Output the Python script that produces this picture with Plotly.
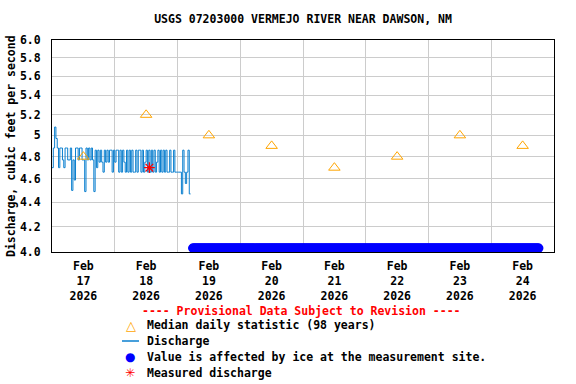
import numpy as np
import pandas as pd
import plotly.graph_objects as go

# ---------------- data ----------------
TITLE = "USGS 07203000 VERMEJO RIVER NEAR DAWSON, NM"
Y_TITLE = "Discharge, cubic feet per second"

# discharge (cfs), 30-minute steps from 2026-02-17 00:00
discharge_cfs = [
    4.70, 4.88, 5.08, 4.97, 4.88, 4.70, 4.88, 4.88, 4.77, 4.70,
    4.88, 4.88, 4.77, 4.77, 4.88, 4.50, 4.77, 4.59, 4.88, 4.88,
    4.77, 4.88, 4.88, 4.77, 4.77, 4.49, 4.88, 4.77, 4.88, 4.77,
    4.88, 4.77, 4.49, 4.86, 4.70, 4.86, 4.75, 4.86, 4.75, 4.66,
    4.86, 4.75, 4.86, 4.75, 4.86, 4.86, 4.66, 4.86, 4.75, 4.86,
    4.86, 4.66, 4.86, 4.66, 4.86, 4.75, 4.66, 4.86, 4.66, 4.86,
    4.66, 4.86, 4.66, 4.66, 4.86, 4.66, 4.86, 4.86, 4.66, 4.86,
    4.66, 4.75, 4.86, 4.66, 4.86, 4.66, 4.86, 4.66, 4.86, 4.66,
    4.75, 4.86, 4.66, 4.86, 4.66, 4.86, 4.66, 4.86, 4.66, 4.66,
    4.86, 4.66, 4.66, 4.86, 4.66, 4.66, 4.66, 4.66, 4.66, 4.47,
    4.86, 4.66, 4.56, 4.66, 4.86, 4.47, 4.47,
]
DISCHARGE_START = "2026-02-17 00:00"
DISCHARGE_STEP = "30min"

median_dates = ["2026-02-17 12:00", "2026-02-18 12:00", "2026-02-19 12:00",
                "2026-02-20 12:00", "2026-02-21 12:00", "2026-02-22 12:00",
                "2026-02-23 12:00", "2026-02-24 12:00"]
median_cfs = [4.8, 5.2, 5.0, 4.9, 4.7, 4.8, 5.0, 4.9]

measured_times = ["2026-02-18 13:15"]
measured_cfs = [4.70]

ICE_START = "2026-02-19 05:45"
ICE_END = "2026-02-24 18:15"
ICE_LEVEL = 4.03

x_tick_vals = median_dates
x_tick_text = ["Feb<br>17<br>2026", "Feb<br>18<br>2026", "Feb<br>19<br>2026",
               "Feb<br>20<br>2026", "Feb<br>21<br>2026", "Feb<br>22<br>2026",
               "Feb<br>23<br>2026", "Feb<br>24<br>2026"]
day_lines = ["2026-02-18", "2026-02-19", "2026-02-20", "2026-02-21",
             "2026-02-22", "2026-02-23", "2026-02-24"]
y_tick_vals = [4.0, 4.2, 4.4, 4.6, 4.8, 5.0, 5.2, 5.4, 5.6, 5.8, 6.0]
y_tick_text = ["4.0", "4.2", "4.4", "4.6", "4.8", "5", "5.2", "5.4", "5.6", "5.8", "6.0"]

legend_texts = ["Median daily statistic (98 years)", "Discharge",
                "Value is affected by ice at the measurement site.",
                "Measured discharge"]
PROVISIONAL = "---- Provisional Data Subject to Revision ----"

# ---------------- styles ----------------
FONT = "DejaVu Sans Mono"
FS = 11.5
GRID = "#cccccc"
LINE_BLUE = "#0a7fcf"
ICE_BLUE = "#0000ff"
ORANGE = "#ffa500"
RED = "#ff0000"

W, H = 576, 384
ML, MR, MT, MB = 52, 22, 40, 132
PW, PH = W - ML - MR, H - MT - MB


def px(x):
    return (x - ML) / PW


def py(y):
    return (H - MB - y) / PH


discharge_times = pd.date_range(DISCHARGE_START, periods=len(discharge_cfs), freq=DISCHARGE_STEP)
ice_times = pd.date_range(ICE_START, ICE_END, freq="15min")
ice_vals = [ICE_LEVEL] * len(ice_times)

fig = go.Figure()
fig.add_trace(go.Scatter(x=ice_times, y=ice_vals, mode="markers",
                         marker=dict(symbol="circle", size=9, color=ICE_BLUE, line=dict(width=0)),
                         showlegend=False, hoverinfo="skip"))
fig.add_trace(go.Scatter(x=discharge_times, y=discharge_cfs, mode="lines",
                         line=dict(color=LINE_BLUE, width=1, shape="hv"),
                         showlegend=False))
fig.add_trace(go.Scatter(x=median_dates, y=median_cfs, mode="markers",
                         marker=dict(symbol="triangle-up-open", size=10, color=ORANGE,
                                     line=dict(width=1, color=ORANGE)),
                         showlegend=False))
fig.add_trace(go.Scatter(x=measured_times, y=measured_cfs, mode="markers",
                         marker=dict(symbol="asterisk-open", size=9, color=RED,
                                     line=dict(width=1.2, color=RED)),
                         showlegend=False))

fig.update_layout(
    width=W, height=H,
    margin=dict(l=ML, r=MR, t=MT, b=MB, pad=0),
    paper_bgcolor="white", plot_bgcolor="white",
    font=dict(family=FONT, size=FS, color="black", weight="bold"),
    title=dict(text=TITLE, x=0.5, xref="paper", xanchor="center",
               y=1 - 19 / H, yref="container", yanchor="middle",
               font=dict(family=FONT, size=FS, color="black", weight="bold")),
    showlegend=False,
)
fig.update_xaxes(
    type="date", range=["2026-02-17 00:00", "2026-02-25 00:00"],
    tickmode="array", tickvals=x_tick_vals, ticktext=x_tick_text,
    showgrid=False, ticks="", ticklabelstandoff=3,
    tickfont=dict(family=FONT, size=FS, color="black", weight="bold"),
    showline=True, linecolor="black", linewidth=1, mirror=True,
    minor=dict(tickmode="array", tickvals=day_lines, showgrid=True,
               gridcolor=GRID, gridwidth=1, ticks=""),
    zeroline=False,
)
fig.update_yaxes(
    type="log", range=[np.log10(4.0), np.log10(6.0)],
    tickmode="array", tickvals=y_tick_vals, ticktext=y_tick_text,
    showgrid=True, gridcolor=GRID, gridwidth=1,
    ticks="", ticklabelstandoff=8,
    tickfont=dict(family=FONT, size=FS, color="black", weight="bold"),
    showline=True, linecolor="black", linewidth=1, mirror=True,
    zeroline=False,
)

ann = []
ann.append(dict(text=Y_TITLE, x=px(11), y=py(146), xref="paper", yref="paper",
                xanchor="center", yanchor="middle", textangle=-90, showarrow=False,
                font=dict(family=FONT, size=FS, color="black", weight="bold")))
ann.append(dict(text=PROVISIONAL, x=px(301), y=py(311), xref="paper", yref="paper",
                xanchor="center", yanchor="middle", showarrow=False,
                font=dict(family=FONT, size=FS, color=RED, weight="bold")))
row_y = [325, 341, 356.5, 372.5]
for t, ry in zip(legend_texts, row_y):
    ann.append(dict(text=t, x=px(145), y=py(ry), xref="paper", yref="paper",
                    xanchor="left", yanchor="middle", showarrow=False,
                    font=dict(family=FONT, size=FS, color="black", weight="bold")))
# legend symbols (text glyphs)
ann.append(dict(text="\u25b3", x=px(131), y=py(row_y[0]), xref="paper", yref="paper",
                xanchor="center", yanchor="middle", showarrow=False,
                font=dict(family="DejaVu Sans", size=13, color=ORANGE)))
ann.append(dict(text="\u25cf", x=px(130), y=py(row_y[2]), xref="paper", yref="paper",
                xanchor="center", yanchor="middle", showarrow=False,
                font=dict(family="DejaVu Sans", size=12, color=ICE_BLUE)))
ann.append(dict(text="\u2733", x=px(130), y=py(row_y[3]), xref="paper", yref="paper",
                xanchor="center", yanchor="middle", showarrow=False,
                font=dict(family="DejaVu Sans", size=12, color=RED)))
fig.update_layout(annotations=ann)
fig.add_shape(type="line", xref="paper", yref="paper",
              x0=px(122), x1=px(139), y0=py(row_y[1]), y1=py(row_y[1]),
              line=dict(color=LINE_BLUE, width=1.5))

fig.write_html("out.html", config={"displayModeBar": False},
               post_script="document.body.style.margin='0';document.body.style.overflow='hidden';")
